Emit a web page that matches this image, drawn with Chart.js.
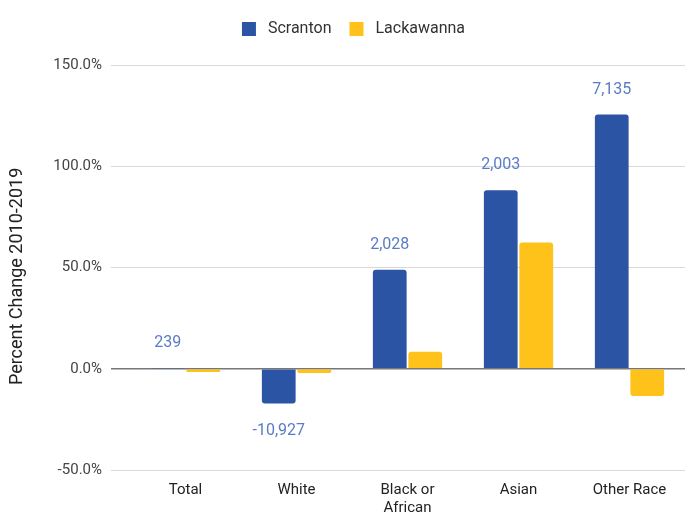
<!DOCTYPE html>
<html>
<head>
<meta charset="utf-8">
<script src="https://cdn.jsdelivr.net/npm/chart.js@4/dist/chart.umd.min.js"></script>
<style>
  html, body { margin: 0; padding: 0; background: #fff; overflow: hidden; }
  canvas { display: block; }
</style>
</head>
<body>
<canvas id="chart" width="695" height="526"></canvas>
<script>
// categories and values
const categories = ['Total', 'White', ['Black or', 'African'], 'Asian', 'Other Race'];
const scrantonPct = [0.3, -17.2, 48.9, 88.1, 125.5];
const lackawannaPct = [-1.6, -2.1, 8.4, 62.3, -13.5];
const scrantonCounts = ['239', '-10,927', '2,028', '2,003', '7,135'];
const yTicks = [-50, 0, 50, 100, 150];

const BLUE = '#2c54a5';
const YELLOW = '#fec21a';
const FONT = 'Roboto, "Noto Sans", sans-serif';

// count labels over / under the Scranton bars
const countLabels = {
  id: 'countLabels',
  afterDatasetsDraw(chart) {
    const ctx = chart.ctx;
    const meta = chart.getDatasetMeta(0);
    ctx.save();
    ctx.font = '16px ' + FONT;
    ctx.fillStyle = '#5a7cc6';
    ctx.textAlign = 'center';
    ctx.textBaseline = 'middle';
    meta.data.forEach((bar, i) => {
      const v = scrantonPct[i];
      const y = v >= 0 ? bar.y - 25 : bar.y + 27;
      ctx.fillText(scrantonCounts[i], bar.x, y);
    });
    ctx.restore();
  }
};

// more room under the legend, and nudge it a little right
const legendGap = {
  id: 'legendGap',
  beforeInit(chart) {
    const fit = chart.legend.fit;
    chart.legend.fit = function () {
      fit.bind(chart.legend)();
      this.height += 18;
    };
  },
  afterLayout(chart) {
    chart.legend.left += 22;
  }
};

new Chart(document.getElementById('chart').getContext('2d'), {
  type: 'bar',
  data: {
    labels: categories,
    datasets: [
      {
        label: 'Scranton',
        data: scrantonPct,
        backgroundColor: BLUE,
        borderRadius: 3,
        categoryPercentage: 0.64,
        barPercentage: 0.95
      },
      {
        label: 'Lackawanna',
        data: lackawannaPct,
        backgroundColor: YELLOW,
        borderRadius: 3,
        categoryPercentage: 0.64,
        barPercentage: 0.95
      }
    ]
  },
  options: {
    responsive: false,
    animation: false,
    layout: { padding: { top: 3, right: 10, bottom: 6, left: 0 } },
    plugins: {
      tooltip: { enabled: false },
      legend: {
        position: 'top',
        labels: {
          boxWidth: 14,
          boxHeight: 14,
          padding: 18,
          color: '#333',
          font: { family: FONT, size: 16 },
          generateLabels(chart) {
            const items = Chart.defaults.plugins.legend.labels.generateLabels(chart);
            items.forEach(it => { it.text = ' ' + it.text; });
            return items;
          }
        }
      }
    },
    scales: {
      x: {
        grid: { display: false },
        border: { display: false },
        ticks: {
          color: '#222',
          padding: 3,
          font: { family: FONT, size: 15 }
        }
      },
      y: {
        min: -50,
        max: 150,
        afterFit(scale) { scale.width = 130; },
        afterBuildTicks(scale) { scale.ticks = yTicks.map(v => ({ value: v })); },
        border: { display: false },
        grid: {
          tickLength: 19,
          color: c => c.tick && c.tick.value === 0 ? '#777' : '#d9d9d9',
          lineWidth: c => c.tick && c.tick.value === 0 ? 1.5 : 1
        },
        ticks: {
          color: '#444',
          padding: 9,
          font: { family: FONT, size: 15 },
          callback: v => v.toFixed(1) + '%'
        },
        title: {
          display: true,
          text: 'Percent Change 2010-2019    ',
          color: '#222',
          padding: { top: 7, bottom: 0 },
          font: { family: FONT, size: 18 }
        }
      }
    }
  },
  plugins: [countLabels, legendGap]
});
</script>
</body>
</html>
